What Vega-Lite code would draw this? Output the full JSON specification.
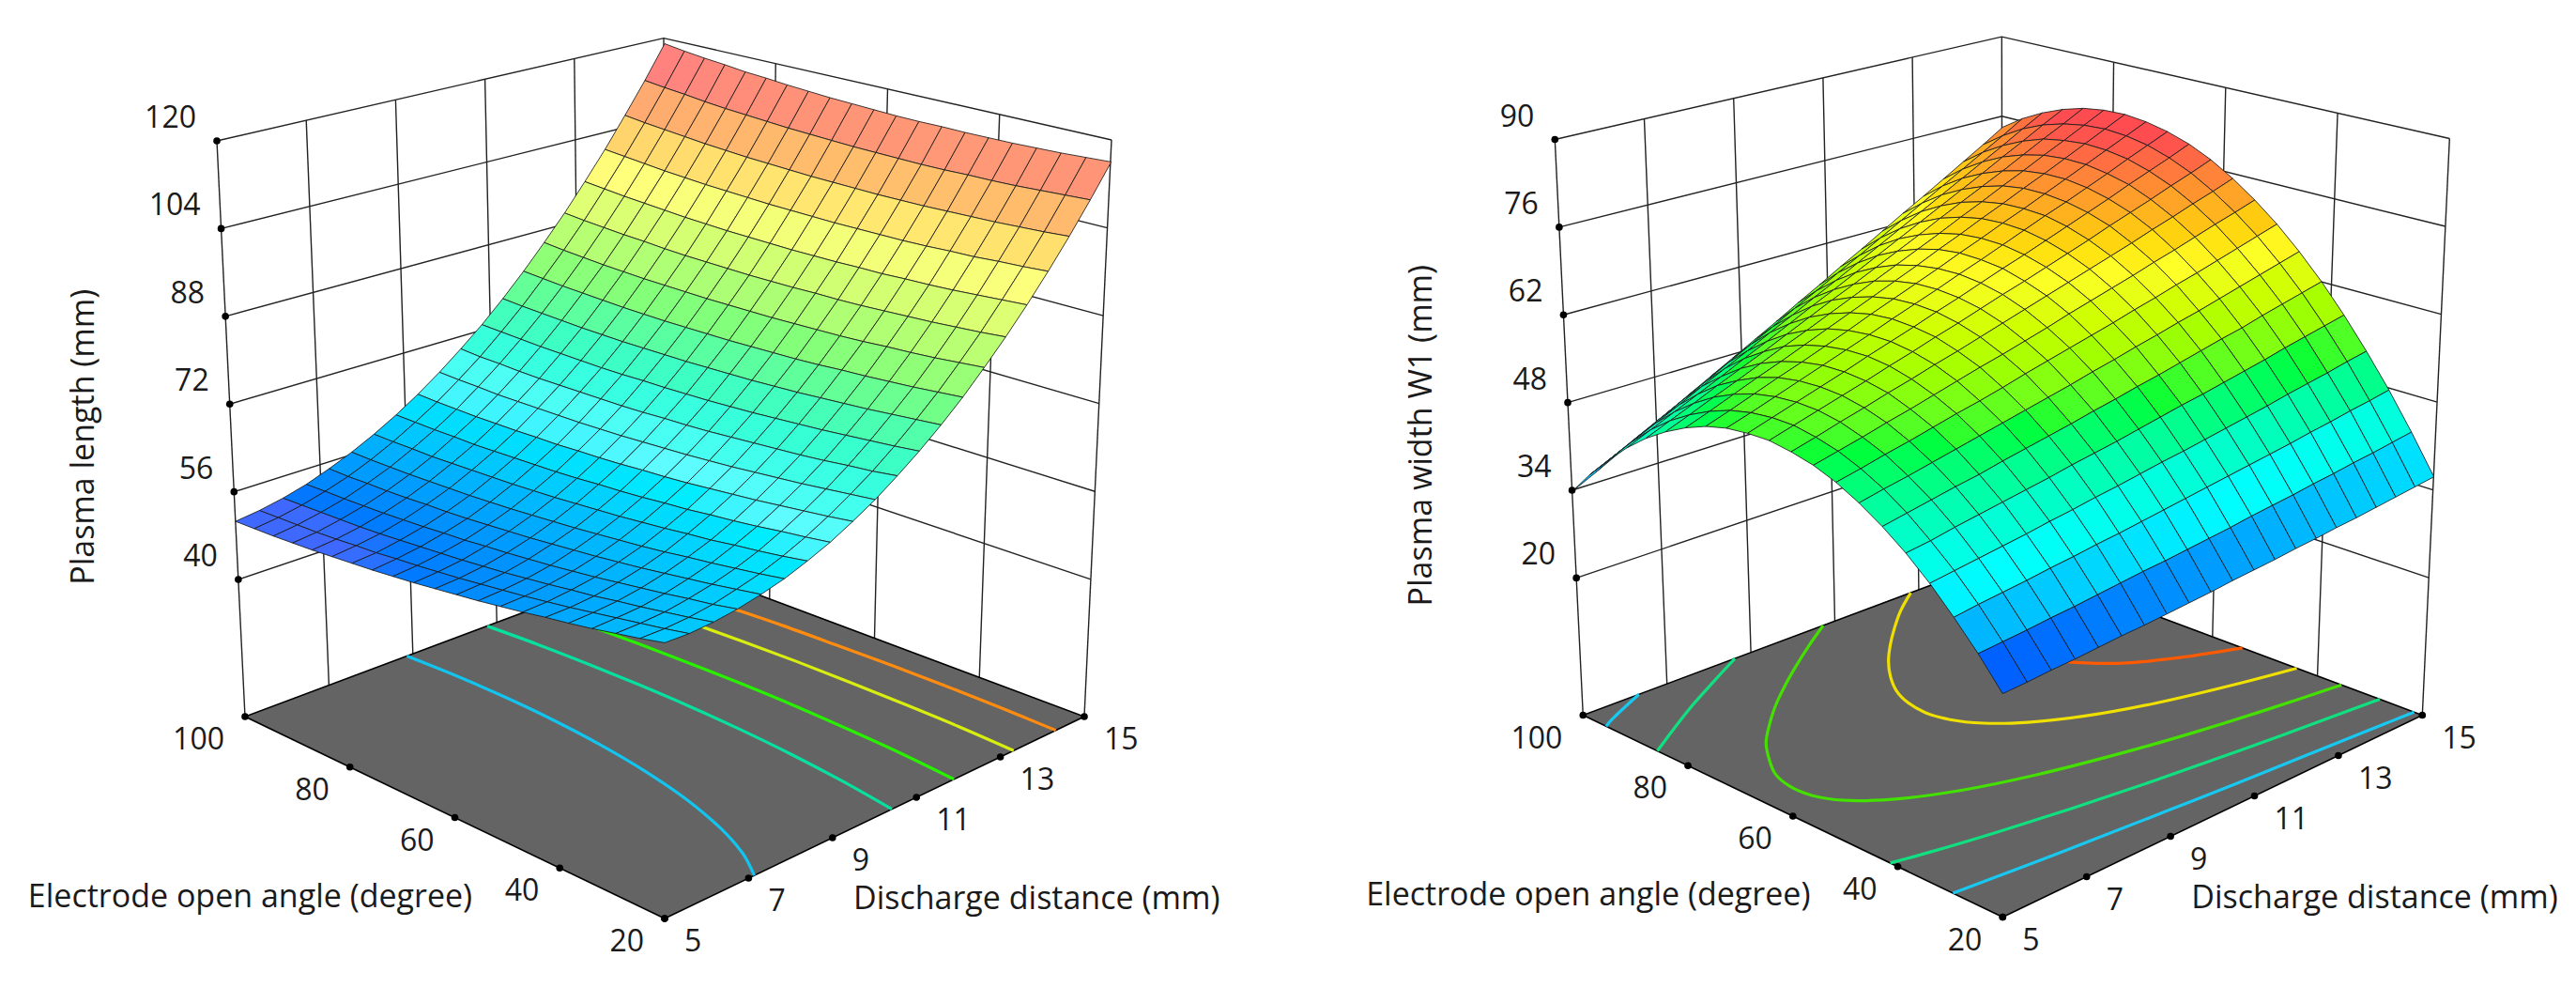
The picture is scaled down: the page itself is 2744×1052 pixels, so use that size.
{"$schema":"https://vega.github.io/schema/vega-lite/v6.json","width":2744,"height":1052,"padding":0,"autosize":"none","background":"white","config":{"view":{"stroke":null},"text":{"font":"Open Sans"}},
"data":{"values":[
{"s":"L","d":15,"a":100,"z":119.7},{"s":"L","d":15,"a":96,"z":119.1},{"s":"L","d":15,"a":92,"z":118.6},{"s":"L","d":15,"a":88,"z":118.2},{"s":"L","d":15,"a":84,"z":117.7},{"s":"L","d":15,"a":80,"z":117.4},{"s":"L","d":15,"a":76,"z":117},{"s":"L","d":15,"a":72,"z":116.7},{"s":"L","d":15,"a":68,"z":116.4},{"s":"L","d":15,"a":64,"z":116.2},{"s":"L","d":15,"a":60,"z":116},{"s":"L","d":15,"a":56,"z":115.8},{"s":"L","d":15,"a":52,"z":115.7},{"s":"L","d":15,"a":48,"z":115.7},{"s":"L","d":15,"a":44,"z":115.6},{"s":"L","d":15,"a":40,"z":115.6},{"s":"L","d":15,"a":36,"z":115.6},{"s":"L","d":15,"a":32,"z":115.7},{"s":"L","d":15,"a":28,"z":115.8},{"s":"L","d":15,"a":24,"z":116},{"s":"L","d":15,"a":20,"z":116.2},
{"s":"L","d":14.5,"a":100,"z":113.4},{"s":"L","d":14.5,"a":96,"z":112.9},{"s":"L","d":14.5,"a":92,"z":112.5},{"s":"L","d":14.5,"a":88,"z":112},{"s":"L","d":14.5,"a":84,"z":111.6},{"s":"L","d":14.5,"a":80,"z":111.3},{"s":"L","d":14.5,"a":76,"z":111},{"s":"L","d":14.5,"a":72,"z":110.7},{"s":"L","d":14.5,"a":68,"z":110.5},{"s":"L","d":14.5,"a":64,"z":110.3},{"s":"L","d":14.5,"a":60,"z":110.1},{"s":"L","d":14.5,"a":56,"z":110},{"s":"L","d":14.5,"a":52,"z":109.9},{"s":"L","d":14.5,"a":48,"z":109.8},{"s":"L","d":14.5,"a":44,"z":109.8},{"s":"L","d":14.5,"a":40,"z":109.9},{"s":"L","d":14.5,"a":36,"z":109.9},{"s":"L","d":14.5,"a":32,"z":110},{"s":"L","d":14.5,"a":28,"z":110.2},{"s":"L","d":14.5,"a":24,"z":110.4},{"s":"L","d":14.5,"a":20,"z":110.6},
{"s":"L","d":14,"a":100,"z":107.5},{"s":"L","d":14,"a":96,"z":107},{"s":"L","d":14,"a":92,"z":106.6},{"s":"L","d":14,"a":88,"z":106.2},{"s":"L","d":14,"a":84,"z":105.8},{"s":"L","d":14,"a":80,"z":105.5},{"s":"L","d":14,"a":76,"z":105.2},{"s":"L","d":14,"a":72,"z":105},{"s":"L","d":14,"a":68,"z":104.8},{"s":"L","d":14,"a":64,"z":104.6},{"s":"L","d":14,"a":60,"z":104.5},{"s":"L","d":14,"a":56,"z":104.4},{"s":"L","d":14,"a":52,"z":104.3},{"s":"L","d":14,"a":48,"z":104.3},{"s":"L","d":14,"a":44,"z":104.3},{"s":"L","d":14,"a":40,"z":104.4},{"s":"L","d":14,"a":36,"z":104.5},{"s":"L","d":14,"a":32,"z":104.6},{"s":"L","d":14,"a":28,"z":104.8},{"s":"L","d":14,"a":24,"z":105},{"s":"L","d":14,"a":20,"z":105.3},
{"s":"L","d":13.5,"a":100,"z":101.8},{"s":"L","d":13.5,"a":96,"z":101.4},{"s":"L","d":13.5,"a":92,"z":101},{"s":"L","d":13.5,"a":88,"z":100.6},{"s":"L","d":13.5,"a":84,"z":100.3},{"s":"L","d":13.5,"a":80,"z":100},{"s":"L","d":13.5,"a":76,"z":99.8},{"s":"L","d":13.5,"a":72,"z":99.6},{"s":"L","d":13.5,"a":68,"z":99.4},{"s":"L","d":13.5,"a":64,"z":99.3},{"s":"L","d":13.5,"a":60,"z":99.2},{"s":"L","d":13.5,"a":56,"z":99.1},{"s":"L","d":13.5,"a":52,"z":99.1},{"s":"L","d":13.5,"a":48,"z":99.1},{"s":"L","d":13.5,"a":44,"z":99.1},{"s":"L","d":13.5,"a":40,"z":99.2},{"s":"L","d":13.5,"a":36,"z":99.4},{"s":"L","d":13.5,"a":32,"z":99.5},{"s":"L","d":13.5,"a":28,"z":99.8},{"s":"L","d":13.5,"a":24,"z":100},{"s":"L","d":13.5,"a":20,"z":100.3},
{"s":"L","d":13,"a":100,"z":96.5},{"s":"L","d":13,"a":96,"z":96.1},{"s":"L","d":13,"a":92,"z":95.7},{"s":"L","d":13,"a":88,"z":95.4},{"s":"L","d":13,"a":84,"z":95.1},{"s":"L","d":13,"a":80,"z":94.8},{"s":"L","d":13,"a":76,"z":94.6},{"s":"L","d":13,"a":72,"z":94.4},{"s":"L","d":13,"a":68,"z":94.3},{"s":"L","d":13,"a":64,"z":94.2},{"s":"L","d":13,"a":60,"z":94.1},{"s":"L","d":13,"a":56,"z":94.1},{"s":"L","d":13,"a":52,"z":94.1},{"s":"L","d":13,"a":48,"z":94.2},{"s":"L","d":13,"a":44,"z":94.2},{"s":"L","d":13,"a":40,"z":94.4},{"s":"L","d":13,"a":36,"z":94.5},{"s":"L","d":13,"a":32,"z":94.7},{"s":"L","d":13,"a":28,"z":95},{"s":"L","d":13,"a":24,"z":95.3},{"s":"L","d":13,"a":20,"z":95.6},
{"s":"L","d":12.5,"a":100,"z":91.4},{"s":"L","d":12.5,"a":96,"z":91},{"s":"L","d":12.5,"a":92,"z":90.7},{"s":"L","d":12.5,"a":88,"z":90.4},{"s":"L","d":12.5,"a":84,"z":90.2},{"s":"L","d":12.5,"a":80,"z":89.9},{"s":"L","d":12.5,"a":76,"z":89.7},{"s":"L","d":12.5,"a":72,"z":89.6},{"s":"L","d":12.5,"a":68,"z":89.5},{"s":"L","d":12.5,"a":64,"z":89.4},{"s":"L","d":12.5,"a":60,"z":89.4},{"s":"L","d":12.5,"a":56,"z":89.4},{"s":"L","d":12.5,"a":52,"z":89.5},{"s":"L","d":12.5,"a":48,"z":89.5},{"s":"L","d":12.5,"a":44,"z":89.6},{"s":"L","d":12.5,"a":40,"z":89.8},{"s":"L","d":12.5,"a":36,"z":90},{"s":"L","d":12.5,"a":32,"z":90.2},{"s":"L","d":12.5,"a":28,"z":90.5},{"s":"L","d":12.5,"a":24,"z":90.8},{"s":"L","d":12.5,"a":20,"z":91.2},
{"s":"L","d":12,"a":100,"z":86.7},{"s":"L","d":12,"a":96,"z":86.3},{"s":"L","d":12,"a":92,"z":86},{"s":"L","d":12,"a":88,"z":85.7},{"s":"L","d":12,"a":84,"z":85.5},{"s":"L","d":12,"a":80,"z":85.3},{"s":"L","d":12,"a":76,"z":85.2},{"s":"L","d":12,"a":72,"z":85.1},{"s":"L","d":12,"a":68,"z":85},{"s":"L","d":12,"a":64,"z":85},{"s":"L","d":12,"a":60,"z":85},{"s":"L","d":12,"a":56,"z":85},{"s":"L","d":12,"a":52,"z":85.1},{"s":"L","d":12,"a":48,"z":85.2},{"s":"L","d":12,"a":44,"z":85.3},{"s":"L","d":12,"a":40,"z":85.5},{"s":"L","d":12,"a":36,"z":85.8},{"s":"L","d":12,"a":32,"z":86},{"s":"L","d":12,"a":28,"z":86.3},{"s":"L","d":12,"a":24,"z":86.7},{"s":"L","d":12,"a":20,"z":87.1},
{"s":"L","d":11.5,"a":100,"z":82.2},{"s":"L","d":11.5,"a":96,"z":81.9},{"s":"L","d":11.5,"a":92,"z":81.6},{"s":"L","d":11.5,"a":88,"z":81.4},{"s":"L","d":11.5,"a":84,"z":81.2},{"s":"L","d":11.5,"a":80,"z":81},{"s":"L","d":11.5,"a":76,"z":80.9},{"s":"L","d":11.5,"a":72,"z":80.8},{"s":"L","d":11.5,"a":68,"z":80.8},{"s":"L","d":11.5,"a":64,"z":80.8},{"s":"L","d":11.5,"a":60,"z":80.8},{"s":"L","d":11.5,"a":56,"z":80.9},{"s":"L","d":11.5,"a":52,"z":81},{"s":"L","d":11.5,"a":48,"z":81.1},{"s":"L","d":11.5,"a":44,"z":81.3},{"s":"L","d":11.5,"a":40,"z":81.6},{"s":"L","d":11.5,"a":36,"z":81.8},{"s":"L","d":11.5,"a":32,"z":82.1},{"s":"L","d":11.5,"a":28,"z":82.4},{"s":"L","d":11.5,"a":24,"z":82.8},{"s":"L","d":11.5,"a":20,"z":83.2},
{"s":"L","d":11,"a":100,"z":78},{"s":"L","d":11,"a":96,"z":77.7},{"s":"L","d":11,"a":92,"z":77.5},{"s":"L","d":11,"a":88,"z":77.3},{"s":"L","d":11,"a":84,"z":77.1},{"s":"L","d":11,"a":80,"z":77},{"s":"L","d":11,"a":76,"z":76.9},{"s":"L","d":11,"a":72,"z":76.9},{"s":"L","d":11,"a":68,"z":76.9},{"s":"L","d":11,"a":64,"z":76.9},{"s":"L","d":11,"a":60,"z":77},{"s":"L","d":11,"a":56,"z":77.1},{"s":"L","d":11,"a":52,"z":77.2},{"s":"L","d":11,"a":48,"z":77.4},{"s":"L","d":11,"a":44,"z":77.6},{"s":"L","d":11,"a":40,"z":77.9},{"s":"L","d":11,"a":36,"z":78.2},{"s":"L","d":11,"a":32,"z":78.5},{"s":"L","d":11,"a":28,"z":78.9},{"s":"L","d":11,"a":24,"z":79.3},{"s":"L","d":11,"a":20,"z":79.7},
{"s":"L","d":10.5,"a":100,"z":74.1},{"s":"L","d":10.5,"a":96,"z":73.9},{"s":"L","d":10.5,"a":92,"z":73.7},{"s":"L","d":10.5,"a":88,"z":73.5},{"s":"L","d":10.5,"a":84,"z":73.4},{"s":"L","d":10.5,"a":80,"z":73.3},{"s":"L","d":10.5,"a":76,"z":73.2},{"s":"L","d":10.5,"a":72,"z":73.2},{"s":"L","d":10.5,"a":68,"z":73.3},{"s":"L","d":10.5,"a":64,"z":73.3},{"s":"L","d":10.5,"a":60,"z":73.4},{"s":"L","d":10.5,"a":56,"z":73.5},{"s":"L","d":10.5,"a":52,"z":73.7},{"s":"L","d":10.5,"a":48,"z":73.9},{"s":"L","d":10.5,"a":44,"z":74.2},{"s":"L","d":10.5,"a":40,"z":74.5},{"s":"L","d":10.5,"a":36,"z":74.8},{"s":"L","d":10.5,"a":32,"z":75.2},{"s":"L","d":10.5,"a":28,"z":75.6},{"s":"L","d":10.5,"a":24,"z":76},{"s":"L","d":10.5,"a":20,"z":76.5},
{"s":"L","d":10,"a":100,"z":70.6},{"s":"L","d":10,"a":96,"z":70.3},{"s":"L","d":10,"a":92,"z":70.2},{"s":"L","d":10,"a":88,"z":70},{"s":"L","d":10,"a":84,"z":69.9},{"s":"L","d":10,"a":80,"z":69.9},{"s":"L","d":10,"a":76,"z":69.9},{"s":"L","d":10,"a":72,"z":69.9},{"s":"L","d":10,"a":68,"z":69.9},{"s":"L","d":10,"a":64,"z":70},{"s":"L","d":10,"a":60,"z":70.2},{"s":"L","d":10,"a":56,"z":70.3},{"s":"L","d":10,"a":52,"z":70.5},{"s":"L","d":10,"a":48,"z":70.8},{"s":"L","d":10,"a":44,"z":71.1},{"s":"L","d":10,"a":40,"z":71.4},{"s":"L","d":10,"a":36,"z":71.7},{"s":"L","d":10,"a":32,"z":72.1},{"s":"L","d":10,"a":28,"z":72.6},{"s":"L","d":10,"a":24,"z":73},{"s":"L","d":10,"a":20,"z":73.6},
{"s":"L","d":9.5,"a":100,"z":67.3},{"s":"L","d":9.5,"a":96,"z":67.1},{"s":"L","d":9.5,"a":92,"z":67},{"s":"L","d":9.5,"a":88,"z":66.8},{"s":"L","d":9.5,"a":84,"z":66.8},{"s":"L","d":9.5,"a":80,"z":66.8},{"s":"L","d":9.5,"a":76,"z":66.8},{"s":"L","d":9.5,"a":72,"z":66.8},{"s":"L","d":9.5,"a":68,"z":66.9},{"s":"L","d":9.5,"a":64,"z":67},{"s":"L","d":9.5,"a":60,"z":67.2},{"s":"L","d":9.5,"a":56,"z":67.4},{"s":"L","d":9.5,"a":52,"z":67.6},{"s":"L","d":9.5,"a":48,"z":67.9},{"s":"L","d":9.5,"a":44,"z":68.2},{"s":"L","d":9.5,"a":40,"z":68.6},{"s":"L","d":9.5,"a":36,"z":69},{"s":"L","d":9.5,"a":32,"z":69.4},{"s":"L","d":9.5,"a":28,"z":69.9},{"s":"L","d":9.5,"a":24,"z":70.4},{"s":"L","d":9.5,"a":20,"z":70.9},
{"s":"L","d":9,"a":100,"z":64.3},{"s":"L","d":9,"a":96,"z":64.1},{"s":"L","d":9,"a":92,"z":64},{"s":"L","d":9,"a":88,"z":63.9},{"s":"L","d":9,"a":84,"z":63.9},{"s":"L","d":9,"a":80,"z":63.9},{"s":"L","d":9,"a":76,"z":64},{"s":"L","d":9,"a":72,"z":64},{"s":"L","d":9,"a":68,"z":64.2},{"s":"L","d":9,"a":64,"z":64.3},{"s":"L","d":9,"a":60,"z":64.5},{"s":"L","d":9,"a":56,"z":64.8},{"s":"L","d":9,"a":52,"z":65},{"s":"L","d":9,"a":48,"z":65.3},{"s":"L","d":9,"a":44,"z":65.7},{"s":"L","d":9,"a":40,"z":66.1},{"s":"L","d":9,"a":36,"z":66.5},{"s":"L","d":9,"a":32,"z":67},{"s":"L","d":9,"a":28,"z":67.5},{"s":"L","d":9,"a":24,"z":68},{"s":"L","d":9,"a":20,"z":68.6},
{"s":"L","d":8.5,"a":100,"z":61.6},{"s":"L","d":8.5,"a":96,"z":61.5},{"s":"L","d":8.5,"a":92,"z":61.4},{"s":"L","d":8.5,"a":88,"z":61.4},{"s":"L","d":8.5,"a":84,"z":61.3},{"s":"L","d":8.5,"a":80,"z":61.4},{"s":"L","d":8.5,"a":76,"z":61.5},{"s":"L","d":8.5,"a":72,"z":61.6},{"s":"L","d":8.5,"a":68,"z":61.7},{"s":"L","d":8.5,"a":64,"z":61.9},{"s":"L","d":8.5,"a":60,"z":62.2},{"s":"L","d":8.5,"a":56,"z":62.4},{"s":"L","d":8.5,"a":52,"z":62.7},{"s":"L","d":8.5,"a":48,"z":63.1},{"s":"L","d":8.5,"a":44,"z":63.4},{"s":"L","d":8.5,"a":40,"z":63.9},{"s":"L","d":8.5,"a":36,"z":64.3},{"s":"L","d":8.5,"a":32,"z":64.8},{"s":"L","d":8.5,"a":28,"z":65.4},{"s":"L","d":8.5,"a":24,"z":65.9},{"s":"L","d":8.5,"a":20,"z":66.5},
{"s":"L","d":8,"a":100,"z":59.2},{"s":"L","d":8,"a":96,"z":59.1},{"s":"L","d":8,"a":92,"z":59.1},{"s":"L","d":8,"a":88,"z":59},{"s":"L","d":8,"a":84,"z":59.1},{"s":"L","d":8,"a":80,"z":59.2},{"s":"L","d":8,"a":76,"z":59.3},{"s":"L","d":8,"a":72,"z":59.4},{"s":"L","d":8,"a":68,"z":59.6},{"s":"L","d":8,"a":64,"z":59.8},{"s":"L","d":8,"a":60,"z":60.1},{"s":"L","d":8,"a":56,"z":60.4},{"s":"L","d":8,"a":52,"z":60.7},{"s":"L","d":8,"a":48,"z":61.1},{"s":"L","d":8,"a":44,"z":61.5},{"s":"L","d":8,"a":40,"z":62},{"s":"L","d":8,"a":36,"z":62.4},{"s":"L","d":8,"a":32,"z":63},{"s":"L","d":8,"a":28,"z":63.5},{"s":"L","d":8,"a":24,"z":64.1},{"s":"L","d":8,"a":20,"z":64.8},
{"s":"L","d":7.5,"a":100,"z":57.1},{"s":"L","d":7.5,"a":96,"z":57},{"s":"L","d":7.5,"a":92,"z":57},{"s":"L","d":7.5,"a":88,"z":57},{"s":"L","d":7.5,"a":84,"z":57.1},{"s":"L","d":7.5,"a":80,"z":57.2},{"s":"L","d":7.5,"a":76,"z":57.3},{"s":"L","d":7.5,"a":72,"z":57.5},{"s":"L","d":7.5,"a":68,"z":57.7},{"s":"L","d":7.5,"a":64,"z":58},{"s":"L","d":7.5,"a":60,"z":58.3},{"s":"L","d":7.5,"a":56,"z":58.6},{"s":"L","d":7.5,"a":52,"z":59},{"s":"L","d":7.5,"a":48,"z":59.4},{"s":"L","d":7.5,"a":44,"z":59.8},{"s":"L","d":7.5,"a":40,"z":60.3},{"s":"L","d":7.5,"a":36,"z":60.9},{"s":"L","d":7.5,"a":32,"z":61.4},{"s":"L","d":7.5,"a":28,"z":62},{"s":"L","d":7.5,"a":24,"z":62.6},{"s":"L","d":7.5,"a":20,"z":63.3},
{"s":"L","d":7,"a":100,"z":55.3},{"s":"L","d":7,"a":96,"z":55.2},{"s":"L","d":7,"a":92,"z":55.3},{"s":"L","d":7,"a":88,"z":55.3},{"s":"L","d":7,"a":84,"z":55.4},{"s":"L","d":7,"a":80,"z":55.6},{"s":"L","d":7,"a":76,"z":55.7},{"s":"L","d":7,"a":72,"z":55.9},{"s":"L","d":7,"a":68,"z":56.2},{"s":"L","d":7,"a":64,"z":56.5},{"s":"L","d":7,"a":60,"z":56.8},{"s":"L","d":7,"a":56,"z":57.2},{"s":"L","d":7,"a":52,"z":57.6},{"s":"L","d":7,"a":48,"z":58},{"s":"L","d":7,"a":44,"z":58.5},{"s":"L","d":7,"a":40,"z":59},{"s":"L","d":7,"a":36,"z":59.6},{"s":"L","d":7,"a":32,"z":60.2},{"s":"L","d":7,"a":28,"z":60.8},{"s":"L","d":7,"a":24,"z":61.5},{"s":"L","d":7,"a":20,"z":62.2},
{"s":"L","d":6.5,"a":100,"z":53.7},{"s":"L","d":6.5,"a":96,"z":53.8},{"s":"L","d":6.5,"a":92,"z":53.8},{"s":"L","d":6.5,"a":88,"z":53.9},{"s":"L","d":6.5,"a":84,"z":54},{"s":"L","d":6.5,"a":80,"z":54.2},{"s":"L","d":6.5,"a":76,"z":54.4},{"s":"L","d":6.5,"a":72,"z":54.7},{"s":"L","d":6.5,"a":68,"z":54.9},{"s":"L","d":6.5,"a":64,"z":55.3},{"s":"L","d":6.5,"a":60,"z":55.6},{"s":"L","d":6.5,"a":56,"z":56},{"s":"L","d":6.5,"a":52,"z":56.4},{"s":"L","d":6.5,"a":48,"z":56.9},{"s":"L","d":6.5,"a":44,"z":57.4},{"s":"L","d":6.5,"a":40,"z":58},{"s":"L","d":6.5,"a":36,"z":58.6},{"s":"L","d":6.5,"a":32,"z":59.2},{"s":"L","d":6.5,"a":28,"z":59.9},{"s":"L","d":6.5,"a":24,"z":60.5},{"s":"L","d":6.5,"a":20,"z":61.3},
{"s":"L","d":6,"a":100,"z":52.5},{"s":"L","d":6,"a":96,"z":52.6},{"s":"L","d":6,"a":92,"z":52.7},{"s":"L","d":6,"a":88,"z":52.8},{"s":"L","d":6,"a":84,"z":52.9},{"s":"L","d":6,"a":80,"z":53.1},{"s":"L","d":6,"a":76,"z":53.4},{"s":"L","d":6,"a":72,"z":53.7},{"s":"L","d":6,"a":68,"z":54},{"s":"L","d":6,"a":64,"z":54.3},{"s":"L","d":6,"a":60,"z":54.7},{"s":"L","d":6,"a":56,"z":55.1},{"s":"L","d":6,"a":52,"z":55.6},{"s":"L","d":6,"a":48,"z":56.1},{"s":"L","d":6,"a":44,"z":56.7},{"s":"L","d":6,"a":40,"z":57.2},{"s":"L","d":6,"a":36,"z":57.9},{"s":"L","d":6,"a":32,"z":58.5},{"s":"L","d":6,"a":28,"z":59.2},{"s":"L","d":6,"a":24,"z":59.9},{"s":"L","d":6,"a":20,"z":60.7},
{"s":"L","d":5.5,"a":100,"z":51.6},{"s":"L","d":5.5,"a":96,"z":51.7},{"s":"L","d":5.5,"a":92,"z":51.8},{"s":"L","d":5.5,"a":88,"z":51.9},{"s":"L","d":5.5,"a":84,"z":52.1},{"s":"L","d":5.5,"a":80,"z":52.4},{"s":"L","d":5.5,"a":76,"z":52.6},{"s":"L","d":5.5,"a":72,"z":53},{"s":"L","d":5.5,"a":68,"z":53.3},{"s":"L","d":5.5,"a":64,"z":53.7},{"s":"L","d":5.5,"a":60,"z":54.1},{"s":"L","d":5.5,"a":56,"z":54.6},{"s":"L","d":5.5,"a":52,"z":55.1},{"s":"L","d":5.5,"a":48,"z":55.6},{"s":"L","d":5.5,"a":44,"z":56.2},{"s":"L","d":5.5,"a":40,"z":56.8},{"s":"L","d":5.5,"a":36,"z":57.5},{"s":"L","d":5.5,"a":32,"z":58.2},{"s":"L","d":5.5,"a":28,"z":58.9},{"s":"L","d":5.5,"a":24,"z":59.6},{"s":"L","d":5.5,"a":20,"z":60.4},
{"s":"L","d":5,"a":100,"z":51},{"s":"L","d":5,"a":96,"z":51.1},{"s":"L","d":5,"a":92,"z":51.2},{"s":"L","d":5,"a":88,"z":51.4},{"s":"L","d":5,"a":84,"z":51.6},{"s":"L","d":5,"a":80,"z":51.9},{"s":"L","d":5,"a":76,"z":52.2},{"s":"L","d":5,"a":72,"z":52.5},{"s":"L","d":5,"a":68,"z":52.9},{"s":"L","d":5,"a":64,"z":53.3},{"s":"L","d":5,"a":60,"z":53.8},{"s":"L","d":5,"a":56,"z":54.3},{"s":"L","d":5,"a":52,"z":54.8},{"s":"L","d":5,"a":48,"z":55.4},{"s":"L","d":5,"a":44,"z":56},{"s":"L","d":5,"a":40,"z":56.7},{"s":"L","d":5,"a":36,"z":57.3},{"s":"L","d":5,"a":32,"z":58},{"s":"L","d":5,"a":28,"z":58.8},{"s":"L","d":5,"a":24,"z":59.6},{"s":"L","d":5,"a":20,"z":60.5},
{"s":"R","d":15,"a":100,"z":75.1},{"s":"R","d":15,"a":96,"z":77.4},{"s":"R","d":15,"a":92,"z":79.2},{"s":"R","d":15,"a":88,"z":80.6},{"s":"R","d":15,"a":84,"z":81.6},{"s":"R","d":15,"a":80,"z":82.1},{"s":"R","d":15,"a":76,"z":82.2},{"s":"R","d":15,"a":72,"z":81.8},{"s":"R","d":15,"a":68,"z":81},{"s":"R","d":15,"a":64,"z":79.8},{"s":"R","d":15,"a":60,"z":78.1},{"s":"R","d":15,"a":56,"z":75.9},{"s":"R","d":15,"a":52,"z":73.3},{"s":"R","d":15,"a":48,"z":70.3},{"s":"R","d":15,"a":44,"z":66.8},{"s":"R","d":15,"a":40,"z":62.9},{"s":"R","d":15,"a":36,"z":58.5},{"s":"R","d":15,"a":32,"z":53.7},{"s":"R","d":15,"a":28,"z":48.5},{"s":"R","d":15,"a":24,"z":42.8},{"s":"R","d":15,"a":20,"z":36.7},
{"s":"R","d":14.5,"a":100,"z":72.9},{"s":"R","d":14.5,"a":96,"z":75.3},{"s":"R","d":14.5,"a":92,"z":77.3},{"s":"R","d":14.5,"a":88,"z":78.8},{"s":"R","d":14.5,"a":84,"z":79.8},{"s":"R","d":14.5,"a":80,"z":80.4},{"s":"R","d":14.5,"a":76,"z":80.6},{"s":"R","d":14.5,"a":72,"z":80.3},{"s":"R","d":14.5,"a":68,"z":79.6},{"s":"R","d":14.5,"a":64,"z":78.4},{"s":"R","d":14.5,"a":60,"z":76.8},{"s":"R","d":14.5,"a":56,"z":74.7},{"s":"R","d":14.5,"a":52,"z":72.2},{"s":"R","d":14.5,"a":48,"z":69.3},{"s":"R","d":14.5,"a":44,"z":65.9},{"s":"R","d":14.5,"a":40,"z":62.1},{"s":"R","d":14.5,"a":36,"z":57.8},{"s":"R","d":14.5,"a":32,"z":53.1},{"s":"R","d":14.5,"a":28,"z":47.9},{"s":"R","d":14.5,"a":24,"z":42.3},{"s":"R","d":14.5,"a":20,"z":36.3},
{"s":"R","d":14,"a":100,"z":70.8},{"s":"R","d":14,"a":96,"z":73.3},{"s":"R","d":14,"a":92,"z":75.3},{"s":"R","d":14,"a":88,"z":76.9},{"s":"R","d":14,"a":84,"z":78.1},{"s":"R","d":14,"a":80,"z":78.7},{"s":"R","d":14,"a":76,"z":79},{"s":"R","d":14,"a":72,"z":78.8},{"s":"R","d":14,"a":68,"z":78.2},{"s":"R","d":14,"a":64,"z":77.1},{"s":"R","d":14,"a":60,"z":75.6},{"s":"R","d":14,"a":56,"z":73.6},{"s":"R","d":14,"a":52,"z":71.2},{"s":"R","d":14,"a":48,"z":68.3},{"s":"R","d":14,"a":44,"z":65},{"s":"R","d":14,"a":40,"z":61.3},{"s":"R","d":14,"a":36,"z":57.1},{"s":"R","d":14,"a":32,"z":52.4},{"s":"R","d":14,"a":28,"z":47.4},{"s":"R","d":14,"a":24,"z":41.8},{"s":"R","d":14,"a":20,"z":35.9},
{"s":"R","d":13.5,"a":100,"z":68.7},{"s":"R","d":13.5,"a":96,"z":71.3},{"s":"R","d":13.5,"a":92,"z":73.4},{"s":"R","d":13.5,"a":88,"z":75.1},{"s":"R","d":13.5,"a":84,"z":76.3},{"s":"R","d":13.5,"a":80,"z":77.1},{"s":"R","d":13.5,"a":76,"z":77.4},{"s":"R","d":13.5,"a":72,"z":77.3},{"s":"R","d":13.5,"a":68,"z":76.7},{"s":"R","d":13.5,"a":64,"z":75.8},{"s":"R","d":13.5,"a":60,"z":74.3},{"s":"R","d":13.5,"a":56,"z":72.4},{"s":"R","d":13.5,"a":52,"z":70.1},{"s":"R","d":13.5,"a":48,"z":67.3},{"s":"R","d":13.5,"a":44,"z":64.1},{"s":"R","d":13.5,"a":40,"z":60.5},{"s":"R","d":13.5,"a":36,"z":56.4},{"s":"R","d":13.5,"a":32,"z":51.8},{"s":"R","d":13.5,"a":28,"z":46.8},{"s":"R","d":13.5,"a":24,"z":41.4},{"s":"R","d":13.5,"a":20,"z":35.5},
{"s":"R","d":13,"a":100,"z":66.6},{"s":"R","d":13,"a":96,"z":69.3},{"s":"R","d":13,"a":92,"z":71.5},{"s":"R","d":13,"a":88,"z":73.2},{"s":"R","d":13,"a":84,"z":74.5},{"s":"R","d":13,"a":80,"z":75.4},{"s":"R","d":13,"a":76,"z":75.8},{"s":"R","d":13,"a":72,"z":75.8},{"s":"R","d":13,"a":68,"z":75.3},{"s":"R","d":13,"a":64,"z":74.4},{"s":"R","d":13,"a":60,"z":73.1},{"s":"R","d":13,"a":56,"z":71.3},{"s":"R","d":13,"a":52,"z":69},{"s":"R","d":13,"a":48,"z":66.3},{"s":"R","d":13,"a":44,"z":63.2},{"s":"R","d":13,"a":40,"z":59.6},{"s":"R","d":13,"a":36,"z":55.6},{"s":"R","d":13,"a":32,"z":51.2},{"s":"R","d":13,"a":28,"z":46.3},{"s":"R","d":13,"a":24,"z":40.9},{"s":"R","d":13,"a":20,"z":35.1},
{"s":"R","d":12.5,"a":100,"z":64.6},{"s":"R","d":12.5,"a":96,"z":67.3},{"s":"R","d":12.5,"a":92,"z":69.6},{"s":"R","d":12.5,"a":88,"z":71.4},{"s":"R","d":12.5,"a":84,"z":72.8},{"s":"R","d":12.5,"a":80,"z":73.8},{"s":"R","d":12.5,"a":76,"z":74.3},{"s":"R","d":12.5,"a":72,"z":74.3},{"s":"R","d":12.5,"a":68,"z":73.9},{"s":"R","d":12.5,"a":64,"z":73.1},{"s":"R","d":12.5,"a":60,"z":71.9},{"s":"R","d":12.5,"a":56,"z":70.1},{"s":"R","d":12.5,"a":52,"z":68},{"s":"R","d":12.5,"a":48,"z":65.4},{"s":"R","d":12.5,"a":44,"z":62.3},{"s":"R","d":12.5,"a":40,"z":58.9},{"s":"R","d":12.5,"a":36,"z":54.9},{"s":"R","d":12.5,"a":32,"z":50.5},{"s":"R","d":12.5,"a":28,"z":45.7},{"s":"R","d":12.5,"a":24,"z":40.5},{"s":"R","d":12.5,"a":20,"z":34.8},
{"s":"R","d":12,"a":100,"z":62.5},{"s":"R","d":12,"a":96,"z":65.3},{"s":"R","d":12,"a":92,"z":67.7},{"s":"R","d":12,"a":88,"z":69.6},{"s":"R","d":12,"a":84,"z":71.1},{"s":"R","d":12,"a":80,"z":72.1},{"s":"R","d":12,"a":76,"z":72.7},{"s":"R","d":12,"a":72,"z":72.8},{"s":"R","d":12,"a":68,"z":72.6},{"s":"R","d":12,"a":64,"z":71.8},{"s":"R","d":12,"a":60,"z":70.6},{"s":"R","d":12,"a":56,"z":69},{"s":"R","d":12,"a":52,"z":66.9},{"s":"R","d":12,"a":48,"z":64.4},{"s":"R","d":12,"a":44,"z":61.5},{"s":"R","d":12,"a":40,"z":58.1},{"s":"R","d":12,"a":36,"z":54.2},{"s":"R","d":12,"a":32,"z":49.9},{"s":"R","d":12,"a":28,"z":45.2},{"s":"R","d":12,"a":24,"z":40},{"s":"R","d":12,"a":20,"z":34.4},
{"s":"R","d":11.5,"a":100,"z":60.4},{"s":"R","d":11.5,"a":96,"z":63.3},{"s":"R","d":11.5,"a":92,"z":65.8},{"s":"R","d":11.5,"a":88,"z":67.8},{"s":"R","d":11.5,"a":84,"z":69.4},{"s":"R","d":11.5,"a":80,"z":70.5},{"s":"R","d":11.5,"a":76,"z":71.2},{"s":"R","d":11.5,"a":72,"z":71.4},{"s":"R","d":11.5,"a":68,"z":71.2},{"s":"R","d":11.5,"a":64,"z":70.5},{"s":"R","d":11.5,"a":60,"z":69.4},{"s":"R","d":11.5,"a":56,"z":67.9},{"s":"R","d":11.5,"a":52,"z":65.9},{"s":"R","d":11.5,"a":48,"z":63.5},{"s":"R","d":11.5,"a":44,"z":60.6},{"s":"R","d":11.5,"a":40,"z":57.3},{"s":"R","d":11.5,"a":36,"z":53.5},{"s":"R","d":11.5,"a":32,"z":49.3},{"s":"R","d":11.5,"a":28,"z":44.7},{"s":"R","d":11.5,"a":24,"z":39.6},{"s":"R","d":11.5,"a":20,"z":34.1},
{"s":"R","d":11,"a":100,"z":58.4},{"s":"R","d":11,"a":96,"z":61.3},{"s":"R","d":11,"a":92,"z":63.9},{"s":"R","d":11,"a":88,"z":66},{"s":"R","d":11,"a":84,"z":67.6},{"s":"R","d":11,"a":80,"z":68.8},{"s":"R","d":11,"a":76,"z":69.6},{"s":"R","d":11,"a":72,"z":69.9},{"s":"R","d":11,"a":68,"z":69.8},{"s":"R","d":11,"a":64,"z":69.2},{"s":"R","d":11,"a":60,"z":68.2},{"s":"R","d":11,"a":56,"z":66.8},{"s":"R","d":11,"a":52,"z":64.9},{"s":"R","d":11,"a":48,"z":62.5},{"s":"R","d":11,"a":44,"z":59.8},{"s":"R","d":11,"a":40,"z":56.5},{"s":"R","d":11,"a":36,"z":52.9},{"s":"R","d":11,"a":32,"z":48.7},{"s":"R","d":11,"a":28,"z":44.2},{"s":"R","d":11,"a":24,"z":39.2},{"s":"R","d":11,"a":20,"z":33.7},
{"s":"R","d":10.5,"a":100,"z":56.3},{"s":"R","d":10.5,"a":96,"z":59.4},{"s":"R","d":10.5,"a":92,"z":62},{"s":"R","d":10.5,"a":88,"z":64.2},{"s":"R","d":10.5,"a":84,"z":65.9},{"s":"R","d":10.5,"a":80,"z":67.2},{"s":"R","d":10.5,"a":76,"z":68.1},{"s":"R","d":10.5,"a":72,"z":68.5},{"s":"R","d":10.5,"a":68,"z":68.4},{"s":"R","d":10.5,"a":64,"z":68},{"s":"R","d":10.5,"a":60,"z":67},{"s":"R","d":10.5,"a":56,"z":65.7},{"s":"R","d":10.5,"a":52,"z":63.9},{"s":"R","d":10.5,"a":48,"z":61.6},{"s":"R","d":10.5,"a":44,"z":58.9},{"s":"R","d":10.5,"a":40,"z":55.8},{"s":"R","d":10.5,"a":36,"z":52.2},{"s":"R","d":10.5,"a":32,"z":48.1},{"s":"R","d":10.5,"a":28,"z":43.7},{"s":"R","d":10.5,"a":24,"z":38.7},{"s":"R","d":10.5,"a":20,"z":33.4},
{"s":"R","d":10,"a":100,"z":54.3},{"s":"R","d":10,"a":96,"z":57.4},{"s":"R","d":10,"a":92,"z":60.1},{"s":"R","d":10,"a":88,"z":62.4},{"s":"R","d":10,"a":84,"z":64.2},{"s":"R","d":10,"a":80,"z":65.6},{"s":"R","d":10,"a":76,"z":66.5},{"s":"R","d":10,"a":72,"z":67},{"s":"R","d":10,"a":68,"z":67.1},{"s":"R","d":10,"a":64,"z":66.7},{"s":"R","d":10,"a":60,"z":65.9},{"s":"R","d":10,"a":56,"z":64.6},{"s":"R","d":10,"a":52,"z":62.8},{"s":"R","d":10,"a":48,"z":60.7},{"s":"R","d":10,"a":44,"z":58.1},{"s":"R","d":10,"a":40,"z":55},{"s":"R","d":10,"a":36,"z":51.5},{"s":"R","d":10,"a":32,"z":47.6},{"s":"R","d":10,"a":28,"z":43.2},{"s":"R","d":10,"a":24,"z":38.3},{"s":"R","d":10,"a":20,"z":33.1},
{"s":"R","d":9.5,"a":100,"z":52.2},{"s":"R","d":9.5,"a":96,"z":55.5},{"s":"R","d":9.5,"a":92,"z":58.3},{"s":"R","d":9.5,"a":88,"z":60.6},{"s":"R","d":9.5,"a":84,"z":62.5},{"s":"R","d":9.5,"a":80,"z":64},{"s":"R","d":9.5,"a":76,"z":65},{"s":"R","d":9.5,"a":72,"z":65.6},{"s":"R","d":9.5,"a":68,"z":65.7},{"s":"R","d":9.5,"a":64,"z":65.4},{"s":"R","d":9.5,"a":60,"z":64.7},{"s":"R","d":9.5,"a":56,"z":63.5},{"s":"R","d":9.5,"a":52,"z":61.8},{"s":"R","d":9.5,"a":48,"z":59.8},{"s":"R","d":9.5,"a":44,"z":57.2},{"s":"R","d":9.5,"a":40,"z":54.3},{"s":"R","d":9.5,"a":36,"z":50.8},{"s":"R","d":9.5,"a":32,"z":47},{"s":"R","d":9.5,"a":28,"z":42.7},{"s":"R","d":9.5,"a":24,"z":37.9},{"s":"R","d":9.5,"a":20,"z":32.7},
{"s":"R","d":9,"a":100,"z":50.2},{"s":"R","d":9,"a":96,"z":53.5},{"s":"R","d":9,"a":92,"z":56.4},{"s":"R","d":9,"a":88,"z":58.9},{"s":"R","d":9,"a":84,"z":60.9},{"s":"R","d":9,"a":80,"z":62.4},{"s":"R","d":9,"a":76,"z":63.5},{"s":"R","d":9,"a":72,"z":64.2},{"s":"R","d":9,"a":68,"z":64.4},{"s":"R","d":9,"a":64,"z":64.2},{"s":"R","d":9,"a":60,"z":63.5},{"s":"R","d":9,"a":56,"z":62.4},{"s":"R","d":9,"a":52,"z":60.8},{"s":"R","d":9,"a":48,"z":58.9},{"s":"R","d":9,"a":44,"z":56.4},{"s":"R","d":9,"a":40,"z":53.5},{"s":"R","d":9,"a":36,"z":50.2},{"s":"R","d":9,"a":32,"z":46.4},{"s":"R","d":9,"a":28,"z":42.2},{"s":"R","d":9,"a":24,"z":37.5},{"s":"R","d":9,"a":20,"z":32.4},
{"s":"R","d":8.5,"a":100,"z":48.2},{"s":"R","d":8.5,"a":96,"z":51.6},{"s":"R","d":8.5,"a":92,"z":54.6},{"s":"R","d":8.5,"a":88,"z":57.1},{"s":"R","d":8.5,"a":84,"z":59.2},{"s":"R","d":8.5,"a":80,"z":60.8},{"s":"R","d":8.5,"a":76,"z":62},{"s":"R","d":8.5,"a":72,"z":62.8},{"s":"R","d":8.5,"a":68,"z":63.1},{"s":"R","d":8.5,"a":64,"z":62.9},{"s":"R","d":8.5,"a":60,"z":62.4},{"s":"R","d":8.5,"a":56,"z":61.3},{"s":"R","d":8.5,"a":52,"z":59.9},{"s":"R","d":8.5,"a":48,"z":57.9},{"s":"R","d":8.5,"a":44,"z":55.6},{"s":"R","d":8.5,"a":40,"z":52.8},{"s":"R","d":8.5,"a":36,"z":49.6},{"s":"R","d":8.5,"a":32,"z":45.9},{"s":"R","d":8.5,"a":28,"z":41.7},{"s":"R","d":8.5,"a":24,"z":37.2},{"s":"R","d":8.5,"a":20,"z":32.1},
{"s":"R","d":8,"a":100,"z":46.2},{"s":"R","d":8,"a":96,"z":49.7},{"s":"R","d":8,"a":92,"z":52.7},{"s":"R","d":8,"a":88,"z":55.3},{"s":"R","d":8,"a":84,"z":57.5},{"s":"R","d":8,"a":80,"z":59.2},{"s":"R","d":8,"a":76,"z":60.5},{"s":"R","d":8,"a":72,"z":61.3},{"s":"R","d":8,"a":68,"z":61.7},{"s":"R","d":8,"a":64,"z":61.7},{"s":"R","d":8,"a":60,"z":61.2},{"s":"R","d":8,"a":56,"z":60.3},{"s":"R","d":8,"a":52,"z":58.9},{"s":"R","d":8,"a":48,"z":57},{"s":"R","d":8,"a":44,"z":54.8},{"s":"R","d":8,"a":40,"z":52.1},{"s":"R","d":8,"a":36,"z":48.9},{"s":"R","d":8,"a":32,"z":45.3},{"s":"R","d":8,"a":28,"z":41.3},{"s":"R","d":8,"a":24,"z":36.8},{"s":"R","d":8,"a":20,"z":31.8},
{"s":"R","d":7.5,"a":100,"z":44.2},{"s":"R","d":7.5,"a":96,"z":47.7},{"s":"R","d":7.5,"a":92,"z":50.9},{"s":"R","d":7.5,"a":88,"z":53.6},{"s":"R","d":7.5,"a":84,"z":55.8},{"s":"R","d":7.5,"a":80,"z":57.7},{"s":"R","d":7.5,"a":76,"z":59},{"s":"R","d":7.5,"a":72,"z":59.9},{"s":"R","d":7.5,"a":68,"z":60.4},{"s":"R","d":7.5,"a":64,"z":60.5},{"s":"R","d":7.5,"a":60,"z":60.1},{"s":"R","d":7.5,"a":56,"z":59.2},{"s":"R","d":7.5,"a":52,"z":57.9},{"s":"R","d":7.5,"a":48,"z":56.2},{"s":"R","d":7.5,"a":44,"z":54},{"s":"R","d":7.5,"a":40,"z":51.4},{"s":"R","d":7.5,"a":36,"z":48.3},{"s":"R","d":7.5,"a":32,"z":44.8},{"s":"R","d":7.5,"a":28,"z":40.8},{"s":"R","d":7.5,"a":24,"z":36.4},{"s":"R","d":7.5,"a":20,"z":31.6},
{"s":"R","d":7,"a":100,"z":42.2},{"s":"R","d":7,"a":96,"z":45.8},{"s":"R","d":7,"a":92,"z":49.1},{"s":"R","d":7,"a":88,"z":51.8},{"s":"R","d":7,"a":84,"z":54.2},{"s":"R","d":7,"a":80,"z":56.1},{"s":"R","d":7,"a":76,"z":57.5},{"s":"R","d":7,"a":72,"z":58.5},{"s":"R","d":7,"a":68,"z":59.1},{"s":"R","d":7,"a":64,"z":59.2},{"s":"R","d":7,"a":60,"z":58.9},{"s":"R","d":7,"a":56,"z":58.2},{"s":"R","d":7,"a":52,"z":56.9},{"s":"R","d":7,"a":48,"z":55.3},{"s":"R","d":7,"a":44,"z":53.2},{"s":"R","d":7,"a":40,"z":50.6},{"s":"R","d":7,"a":36,"z":47.7},{"s":"R","d":7,"a":32,"z":44.2},{"s":"R","d":7,"a":28,"z":40.4},{"s":"R","d":7,"a":24,"z":36},{"s":"R","d":7,"a":20,"z":31.3},
{"s":"R","d":6.5,"a":100,"z":40.2},{"s":"R","d":6.5,"a":96,"z":43.9},{"s":"R","d":6.5,"a":92,"z":47.2},{"s":"R","d":6.5,"a":88,"z":50.1},{"s":"R","d":6.5,"a":84,"z":52.6},{"s":"R","d":6.5,"a":80,"z":54.5},{"s":"R","d":6.5,"a":76,"z":56.1},{"s":"R","d":6.5,"a":72,"z":57.2},{"s":"R","d":6.5,"a":68,"z":57.8},{"s":"R","d":6.5,"a":64,"z":58},{"s":"R","d":6.5,"a":60,"z":57.8},{"s":"R","d":6.5,"a":56,"z":57.1},{"s":"R","d":6.5,"a":52,"z":56},{"s":"R","d":6.5,"a":48,"z":54.4},{"s":"R","d":6.5,"a":44,"z":52.4},{"s":"R","d":6.5,"a":40,"z":50},{"s":"R","d":6.5,"a":36,"z":47.1},{"s":"R","d":6.5,"a":32,"z":43.7},{"s":"R","d":6.5,"a":28,"z":39.9},{"s":"R","d":6.5,"a":24,"z":35.7},{"s":"R","d":6.5,"a":20,"z":31},
{"s":"R","d":6,"a":100,"z":38.2},{"s":"R","d":6,"a":96,"z":42},{"s":"R","d":6,"a":92,"z":45.4},{"s":"R","d":6,"a":88,"z":48.4},{"s":"R","d":6,"a":84,"z":50.9},{"s":"R","d":6,"a":80,"z":53},{"s":"R","d":6,"a":76,"z":54.6},{"s":"R","d":6,"a":72,"z":55.8},{"s":"R","d":6,"a":68,"z":56.5},{"s":"R","d":6,"a":64,"z":56.8},{"s":"R","d":6,"a":60,"z":56.7},{"s":"R","d":6,"a":56,"z":56.1},{"s":"R","d":6,"a":52,"z":55},{"s":"R","d":6,"a":48,"z":53.6},{"s":"R","d":6,"a":44,"z":51.6},{"s":"R","d":6,"a":40,"z":49.3},{"s":"R","d":6,"a":36,"z":46.5},{"s":"R","d":6,"a":32,"z":43.2},{"s":"R","d":6,"a":28,"z":39.5},{"s":"R","d":6,"a":24,"z":35.3},{"s":"R","d":6,"a":20,"z":30.8},
{"s":"R","d":5.5,"a":100,"z":36.2},{"s":"R","d":5.5,"a":96,"z":40.1},{"s":"R","d":5.5,"a":92,"z":43.6},{"s":"R","d":5.5,"a":88,"z":46.7},{"s":"R","d":5.5,"a":84,"z":49.3},{"s":"R","d":5.5,"a":80,"z":51.4},{"s":"R","d":5.5,"a":76,"z":53.1},{"s":"R","d":5.5,"a":72,"z":54.4},{"s":"R","d":5.5,"a":68,"z":55.2},{"s":"R","d":5.5,"a":64,"z":55.6},{"s":"R","d":5.5,"a":60,"z":55.6},{"s":"R","d":5.5,"a":56,"z":55},{"s":"R","d":5.5,"a":52,"z":54.1},{"s":"R","d":5.5,"a":48,"z":52.7},{"s":"R","d":5.5,"a":44,"z":50.9},{"s":"R","d":5.5,"a":40,"z":48.6},{"s":"R","d":5.5,"a":36,"z":45.8},{"s":"R","d":5.5,"a":32,"z":42.7},{"s":"R","d":5.5,"a":28,"z":39.1},{"s":"R","d":5.5,"a":24,"z":35},{"s":"R","d":5.5,"a":20,"z":30.5},
{"s":"R","d":5,"a":100,"z":34.3},{"s":"R","d":5,"a":96,"z":38.3},{"s":"R","d":5,"a":92,"z":41.8},{"s":"R","d":5,"a":88,"z":45},{"s":"R","d":5,"a":84,"z":47.7},{"s":"R","d":5,"a":80,"z":49.9},{"s":"R","d":5,"a":76,"z":51.7},{"s":"R","d":5,"a":72,"z":53.1},{"s":"R","d":5,"a":68,"z":54},{"s":"R","d":5,"a":64,"z":54.4},{"s":"R","d":5,"a":60,"z":54.5},{"s":"R","d":5,"a":56,"z":54},{"s":"R","d":5,"a":52,"z":53.2},{"s":"R","d":5,"a":48,"z":51.9},{"s":"R","d":5,"a":44,"z":50.1},{"s":"R","d":5,"a":40,"z":47.9},{"s":"R","d":5,"a":36,"z":45.3},{"s":"R","d":5,"a":32,"z":42.2},{"s":"R","d":5,"a":28,"z":38.6},{"s":"R","d":5,"a":24,"z":34.7},{"s":"R","d":5,"a":20,"z":30.3},
{"s":"L","k":"floor","o":0,"d":5,"a":20},{"s":"L","k":"floor","o":1,"d":15,"a":20},{"s":"L","k":"floor","o":2,"d":15,"a":100},{"s":"L","k":"floor","o":3,"d":5,"a":100},{"s":"L","k":"floor","o":4,"d":5,"a":20},
{"s":"R","k":"floor","o":0,"d":5,"a":20},{"s":"R","k":"floor","o":1,"d":15,"a":20},{"s":"R","k":"floor","o":2,"d":15,"a":100},{"s":"R","k":"floor","o":3,"d":5,"a":100},{"s":"R","k":"floor","o":4,"d":5,"a":20},
{"s":"L","k":"w","g":"z40","o":0,"d":5,"a":100,"z":40},{"s":"L","k":"w","g":"z40","o":1,"d":15,"a":100,"z":40},{"s":"L","k":"w","g":"z40","o":2,"d":15,"a":20,"z":40},
{"s":"L","k":"w","g":"z56","o":0,"d":5,"a":100,"z":56},{"s":"L","k":"w","g":"z56","o":1,"d":15,"a":100,"z":56},{"s":"L","k":"w","g":"z56","o":2,"d":15,"a":20,"z":56},
{"s":"L","k":"w","g":"z72","o":0,"d":5,"a":100,"z":72},{"s":"L","k":"w","g":"z72","o":1,"d":15,"a":100,"z":72},{"s":"L","k":"w","g":"z72","o":2,"d":15,"a":20,"z":72},
{"s":"L","k":"w","g":"z88","o":0,"d":5,"a":100,"z":88},{"s":"L","k":"w","g":"z88","o":1,"d":15,"a":100,"z":88},{"s":"L","k":"w","g":"z88","o":2,"d":15,"a":20,"z":88},
{"s":"L","k":"w","g":"z104","o":0,"d":5,"a":100,"z":104},{"s":"L","k":"w","g":"z104","o":1,"d":15,"a":100,"z":104},{"s":"L","k":"w","g":"z104","o":2,"d":15,"a":20,"z":104},
{"s":"L","k":"w","g":"z120","o":0,"d":5,"a":100,"z":120},{"s":"L","k":"w","g":"z120","o":1,"d":15,"a":100,"z":120},{"s":"L","k":"w","g":"z120","o":2,"d":15,"a":20,"z":120},
{"s":"L","k":"w","g":"d5","o":0,"d":5,"a":100},{"s":"L","k":"w","g":"d5","o":1,"d":5,"a":100,"z":120},{"s":"L","k":"w","g":"d7","o":0,"d":7,"a":100},{"s":"L","k":"w","g":"d7","o":1,"d":7,"a":100,"z":120},{"s":"L","k":"w","g":"d9","o":0,"d":9,"a":100},{"s":"L","k":"w","g":"d9","o":1,"d":9,"a":100,"z":120},{"s":"L","k":"w","g":"d11","o":0,"d":11,"a":100},{"s":"L","k":"w","g":"d11","o":1,"d":11,"a":100,"z":120},{"s":"L","k":"w","g":"d13","o":0,"d":13,"a":100},{"s":"L","k":"w","g":"d13","o":1,"d":13,"a":100,"z":120},{"s":"L","k":"w","g":"d15","o":0,"d":15,"a":100},{"s":"L","k":"w","g":"d15","o":1,"d":15,"a":100,"z":120},
{"s":"L","k":"w","g":"a80","o":0,"d":15,"a":80},{"s":"L","k":"w","g":"a80","o":1,"d":15,"a":80,"z":120},{"s":"L","k":"w","g":"a60","o":0,"d":15,"a":60},{"s":"L","k":"w","g":"a60","o":1,"d":15,"a":60,"z":120},{"s":"L","k":"w","g":"a40","o":0,"d":15,"a":40},{"s":"L","k":"w","g":"a40","o":1,"d":15,"a":40,"z":120},{"s":"L","k":"w","g":"a20","o":0,"d":15,"a":20},{"s":"L","k":"w","g":"a20","o":1,"d":15,"a":20,"z":120},
{"s":"R","k":"w","g":"z20","o":0,"d":5,"a":100,"z":20},{"s":"R","k":"w","g":"z20","o":1,"d":15,"a":100,"z":20},{"s":"R","k":"w","g":"z20","o":2,"d":15,"a":20,"z":20},
{"s":"R","k":"w","g":"z34","o":0,"d":5,"a":100,"z":34},{"s":"R","k":"w","g":"z34","o":1,"d":15,"a":100,"z":34},{"s":"R","k":"w","g":"z34","o":2,"d":15,"a":20,"z":34},
{"s":"R","k":"w","g":"z48","o":0,"d":5,"a":100,"z":48},{"s":"R","k":"w","g":"z48","o":1,"d":15,"a":100,"z":48},{"s":"R","k":"w","g":"z48","o":2,"d":15,"a":20,"z":48},
{"s":"R","k":"w","g":"z62","o":0,"d":5,"a":100,"z":62},{"s":"R","k":"w","g":"z62","o":1,"d":15,"a":100,"z":62},{"s":"R","k":"w","g":"z62","o":2,"d":15,"a":20,"z":62},
{"s":"R","k":"w","g":"z76","o":0,"d":5,"a":100,"z":76},{"s":"R","k":"w","g":"z76","o":1,"d":15,"a":100,"z":76},{"s":"R","k":"w","g":"z76","o":2,"d":15,"a":20,"z":76},
{"s":"R","k":"w","g":"z90","o":0,"d":5,"a":100,"z":90},{"s":"R","k":"w","g":"z90","o":1,"d":15,"a":100,"z":90},{"s":"R","k":"w","g":"z90","o":2,"d":15,"a":20,"z":90},
{"s":"R","k":"w","g":"d5","o":0,"d":5,"a":100},{"s":"R","k":"w","g":"d5","o":1,"d":5,"a":100,"z":90},{"s":"R","k":"w","g":"d7","o":0,"d":7,"a":100},{"s":"R","k":"w","g":"d7","o":1,"d":7,"a":100,"z":90},{"s":"R","k":"w","g":"d9","o":0,"d":9,"a":100},{"s":"R","k":"w","g":"d9","o":1,"d":9,"a":100,"z":90},{"s":"R","k":"w","g":"d11","o":0,"d":11,"a":100},{"s":"R","k":"w","g":"d11","o":1,"d":11,"a":100,"z":90},{"s":"R","k":"w","g":"d13","o":0,"d":13,"a":100},{"s":"R","k":"w","g":"d13","o":1,"d":13,"a":100,"z":90},{"s":"R","k":"w","g":"d15","o":0,"d":15,"a":100},{"s":"R","k":"w","g":"d15","o":1,"d":15,"a":100,"z":90},
{"s":"R","k":"w","g":"a80","o":0,"d":15,"a":80},{"s":"R","k":"w","g":"a80","o":1,"d":15,"a":80,"z":90},{"s":"R","k":"w","g":"a60","o":0,"d":15,"a":60},{"s":"R","k":"w","g":"a60","o":1,"d":15,"a":60,"z":90},{"s":"R","k":"w","g":"a40","o":0,"d":15,"a":40},{"s":"R","k":"w","g":"a40","o":1,"d":15,"a":40,"z":90},{"s":"R","k":"w","g":"a20","o":0,"d":15,"a":20},{"s":"R","k":"w","g":"a20","o":1,"d":15,"a":20,"z":90},
{"s":"L","k":"c","g":"L62","o":0,"d":6.92,"a":20},{"s":"L","k":"c","g":"L62","o":1,"d":7.13,"a":22.5},{"s":"L","k":"c","g":"L62","o":2,"d":7.32,"a":25},{"s":"L","k":"c","g":"L62","o":3,"d":7.61,"a":30},{"s":"L","k":"c","g":"L62","o":4,"d":8.02,"a":40},{"s":"L","k":"c","g":"L62","o":5,"d":8.29,"a":50},{"s":"L","k":"c","g":"L62","o":6,"d":8.47,"a":60},{"s":"L","k":"c","g":"L62","o":7,"d":8.58,"a":70},{"s":"L","k":"c","g":"L62","o":8,"d":8.63,"a":80},{"s":"L","k":"c","g":"L62","o":9,"d":8.63,"a":90},{"s":"L","k":"c","g":"L62","o":10,"d":8.58,"a":100},
{"s":"L","k":"c","g":"L74","o":0,"d":10.08,"a":20},{"s":"L","k":"c","g":"L74","o":1,"d":10.28,"a":30},{"s":"L","k":"c","g":"L74","o":2,"d":10.43,"a":40},{"s":"L","k":"c","g":"L74","o":3,"d":10.53,"a":50},{"s":"L","k":"c","g":"L74","o":4,"d":10.59,"a":60},{"s":"L","k":"c","g":"L74","o":5,"d":10.61,"a":70},{"s":"L","k":"c","g":"L74","o":6,"d":10.6,"a":80},{"s":"L","k":"c","g":"L74","o":7,"d":10.56,"a":90},{"s":"L","k":"c","g":"L74","o":8,"d":10.48,"a":100},
{"s":"L","k":"c","g":"L84","o":0,"d":11.6,"a":20},{"s":"L","k":"c","g":"L84","o":1,"d":11.73,"a":30},{"s":"L","k":"c","g":"L84","o":2,"d":11.81,"a":40},{"s":"L","k":"c","g":"L84","o":3,"d":11.87,"a":50},{"s":"L","k":"c","g":"L84","o":4,"d":11.89,"a":60},{"s":"L","k":"c","g":"L84","o":5,"d":11.88,"a":70},{"s":"L","k":"c","g":"L84","o":6,"d":11.85,"a":80},{"s":"L","k":"c","g":"L84","o":7,"d":11.79,"a":90},{"s":"L","k":"c","g":"L84","o":8,"d":11.71,"a":100},
{"s":"L","k":"c","g":"L97","o":0,"d":13.12,"a":20},{"s":"L","k":"c","g":"L97","o":1,"d":13.2,"a":30},{"s":"L","k":"c","g":"L97","o":2,"d":13.24,"a":40},{"s":"L","k":"c","g":"L97","o":3,"d":13.26,"a":50},{"s":"L","k":"c","g":"L97","o":4,"d":13.26,"a":60},{"s":"L","k":"c","g":"L97","o":5,"d":13.23,"a":70},{"s":"L","k":"c","g":"L97","o":6,"d":13.18,"a":80},{"s":"L","k":"c","g":"L97","o":7,"d":13.11,"a":90},{"s":"L","k":"c","g":"L97","o":8,"d":13.02,"a":100},
{"s":"L","k":"c","g":"L108","o":0,"d":14.23,"a":20},{"s":"L","k":"c","g":"L108","o":1,"d":14.28,"a":30},{"s":"L","k":"c","g":"L108","o":2,"d":14.31,"a":40},{"s":"L","k":"c","g":"L108","o":3,"d":14.31,"a":50},{"s":"L","k":"c","g":"L108","o":4,"d":14.29,"a":60},{"s":"L","k":"c","g":"L108","o":5,"d":14.26,"a":70},{"s":"L","k":"c","g":"L108","o":6,"d":14.19,"a":80},{"s":"L","k":"c","g":"L108","o":7,"d":14.12,"a":90},{"s":"L","k":"c","g":"L108","o":8,"d":14.02,"a":100},
{"s":"R","k":"c","g":"R39a","o":0,"d":5,"a":28.4},{"s":"R","k":"c","g":"R39a","o":1,"d":6.4,"a":27.2},{"s":"R","k":"c","g":"R39a","o":2,"d":7.95,"a":26},{"s":"R","k":"c","g":"R39a","o":3,"d":9.35,"a":25},{"s":"R","k":"c","g":"R39a","o":4,"d":10.8,"a":24},{"s":"R","k":"c","g":"R39a","o":5,"d":12.45,"a":23},{"s":"R","k":"c","g":"R39a","o":6,"d":14.05,"a":22},{"s":"R","k":"c","g":"R39a","o":7,"d":15,"a":21.4},
{"s":"R","k":"c","g":"R39b","o":0,"d":5,"a":95},{"s":"R","k":"c","g":"R39b","o":1,"d":5.2,"a":96},{"s":"R","k":"c","g":"R39b","o":2,"d":6.2,"a":100},
{"s":"R","k":"c","g":"R47a","o":0,"d":5,"a":39.4},{"s":"R","k":"c","g":"R47a","o":1,"d":5.7,"a":38},{"s":"R","k":"c","g":"R47a","o":2,"d":6.9,"a":36},{"s":"R","k":"c","g":"R47a","o":3,"d":8.3,"a":34},{"s":"R","k":"c","g":"R47a","o":4,"d":9.95,"a":32},{"s":"R","k":"c","g":"R47a","o":5,"d":11.9,"a":30},{"s":"R","k":"c","g":"R47a","o":6,"d":14.2,"a":28},{"s":"R","k":"c","g":"R47a","o":7,"d":15,"a":27.3},
{"s":"R","k":"c","g":"R47b","o":0,"d":5,"a":84.2},{"s":"R","k":"c","g":"R47b","o":1,"d":5.74,"a":88},{"s":"R","k":"c","g":"R47b","o":2,"d":6.55,"a":92},{"s":"R","k":"c","g":"R47b","o":3,"d":7.44,"a":96},{"s":"R","k":"c","g":"R47b","o":4,"d":8.35,"a":100},
{"s":"R","k":"c","g":"R56","o":0,"d":10.43,"a":100},{"s":"R","k":"c","g":"R56","o":1,"d":9.64,"a":96},{"s":"R","k":"c","g":"R56","o":2,"d":8.9,"a":92},{"s":"R","k":"c","g":"R56","o":3,"d":8.2,"a":88},{"s":"R","k":"c","g":"R56","o":4,"d":7.55,"a":84},{"s":"R","k":"c","g":"R56","o":5,"d":6.98,"a":80},{"s":"R","k":"c","g":"R56","o":6,"d":6.47,"a":76},{"s":"R","k":"c","g":"R56","o":7,"d":6.1,"a":72},{"s":"R","k":"c","g":"R56","o":8,"d":5.8,"a":68},{"s":"R","k":"c","g":"R56","o":9,"d":5.67,"a":64},{"s":"R","k":"c","g":"R56","o":10,"d":5.7,"a":60},{"s":"R","k":"c","g":"R56","o":11,"d":5.95,"a":56},{"s":"R","k":"c","g":"R56","o":12,"d":6.5,"a":52},{"s":"R","k":"c","g":"R56","o":13,"d":7.4,"a":48},{"s":"R","k":"c","g":"R56","o":14,"d":8.75,"a":44},{"s":"R","k":"c","g":"R56","o":15,"d":10.65,"a":40},{"s":"R","k":"c","g":"R56","o":16,"d":11.85,"a":38},{"s":"R","k":"c","g":"R56","o":17,"d":13.3,"a":36},{"s":"R","k":"c","g":"R56","o":18,"d":15,"a":34},
{"s":"R","k":"c","g":"R65","o":0,"d":12.6,"a":100},{"s":"R","k":"c","g":"R65","o":1,"d":11.87,"a":96},{"s":"R","k":"c","g":"R65","o":2,"d":11.25,"a":92},{"s":"R","k":"c","g":"R65","o":3,"d":10.68,"a":88},{"s":"R","k":"c","g":"R65","o":4,"d":10.17,"a":84},{"s":"R","k":"c","g":"R65","o":5,"d":9.75,"a":80},{"s":"R","k":"c","g":"R65","o":6,"d":9.42,"a":76},{"s":"R","k":"c","g":"R65","o":7,"d":9.22,"a":72},{"s":"R","k":"c","g":"R65","o":8,"d":9.15,"a":68},{"s":"R","k":"c","g":"R65","o":9,"d":9.25,"a":64},{"s":"R","k":"c","g":"R65","o":10,"d":9.55,"a":60},{"s":"R","k":"c","g":"R65","o":11,"d":10.1,"a":56},{"s":"R","k":"c","g":"R65","o":12,"d":10.95,"a":52},{"s":"R","k":"c","g":"R65","o":13,"d":12.2,"a":48},{"s":"R","k":"c","g":"R65","o":14,"d":13.95,"a":44},{"s":"R","k":"c","g":"R65","o":15,"d":15,"a":42},
{"s":"R","k":"c","g":"R73","o":0,"d":14.6,"a":100},{"s":"R","k":"c","g":"R73","o":1,"d":14,"a":96},{"s":"R","k":"c","g":"R73","o":2,"d":13.5,"a":92},{"s":"R","k":"c","g":"R73","o":3,"d":13.05,"a":88},{"s":"R","k":"c","g":"R73","o":4,"d":12.68,"a":84},{"s":"R","k":"c","g":"R73","o":5,"d":12.4,"a":80},{"s":"R","k":"c","g":"R73","o":6,"d":12.2,"a":76},{"s":"R","k":"c","g":"R73","o":7,"d":12.15,"a":72},{"s":"R","k":"c","g":"R73","o":8,"d":12.25,"a":68},{"s":"R","k":"c","g":"R73","o":9,"d":12.57,"a":64},{"s":"R","k":"c","g":"R73","o":10,"d":13.07,"a":60},{"s":"R","k":"c","g":"R73","o":11,"d":13.9,"a":56},{"s":"R","k":"c","g":"R73","o":12,"d":15,"a":52},
{"s":"L","k":"t","axis":"d","t":"5","d":5,"a":20},{"s":"L","k":"t","axis":"d","t":"7","d":7,"a":20},{"s":"L","k":"t","axis":"d","t":"9","d":9,"a":20},{"s":"L","k":"t","axis":"d","t":"11","d":11,"a":20},{"s":"L","k":"t","axis":"d","t":"13","d":13,"a":20},{"s":"L","k":"t","axis":"d","t":"15","d":15,"a":20},
{"s":"L","k":"t","axis":"a","t":"20","d":5,"a":20},{"s":"L","k":"t","axis":"a","t":"40","d":5,"a":40},{"s":"L","k":"t","axis":"a","t":"60","d":5,"a":60},{"s":"L","k":"t","axis":"a","t":"80","d":5,"a":80},{"s":"L","k":"t","axis":"a","t":"100","d":5,"a":100},
{"s":"L","k":"t","axis":"z","t":"40","d":5,"a":100,"z":40},{"s":"L","k":"t","axis":"z","t":"56","d":5,"a":100,"z":56},{"s":"L","k":"t","axis":"z","t":"72","d":5,"a":100,"z":72},{"s":"L","k":"t","axis":"z","t":"88","d":5,"a":100,"z":88},{"s":"L","k":"t","axis":"z","t":"104","d":5,"a":100,"z":104},{"s":"L","k":"t","axis":"z","t":"120","d":5,"a":100,"z":120},
{"s":"R","k":"t","axis":"d","t":"5","d":5,"a":20},{"s":"R","k":"t","axis":"d","t":"7","d":7,"a":20},{"s":"R","k":"t","axis":"d","t":"9","d":9,"a":20},{"s":"R","k":"t","axis":"d","t":"11","d":11,"a":20},{"s":"R","k":"t","axis":"d","t":"13","d":13,"a":20},{"s":"R","k":"t","axis":"d","t":"15","d":15,"a":20},
{"s":"R","k":"t","axis":"a","t":"20","d":5,"a":20},{"s":"R","k":"t","axis":"a","t":"40","d":5,"a":40},{"s":"R","k":"t","axis":"a","t":"60","d":5,"a":60},{"s":"R","k":"t","axis":"a","t":"80","d":5,"a":80},{"s":"R","k":"t","axis":"a","t":"100","d":5,"a":100},
{"s":"R","k":"t","axis":"z","t":"20","d":5,"a":100,"z":20},{"s":"R","k":"t","axis":"z","t":"34","d":5,"a":100,"z":34},{"s":"R","k":"t","axis":"z","t":"48","d":5,"a":100,"z":48},{"s":"R","k":"t","axis":"z","t":"62","d":5,"a":100,"z":62},{"s":"R","k":"t","axis":"z","t":"76","d":5,"a":100,"z":76},{"s":"R","k":"t","axis":"z","t":"90","d":5,"a":100,"z":90},
{"s":"L","k":"title","axis":"a","t":"Electrode open angle (degree)","d":5,"a":60},{"s":"R","k":"title","axis":"a","t":"Electrode open angle (degree)","d":5,"a":60},
{"s":"L","k":"title","axis":"d","t":"Discharge distance (mm)","d":11,"a":20},{"s":"R","k":"title","axis":"d","t":"Discharge distance (mm)","d":11,"a":20},
{"s":"L","k":"title","axis":"z","t":"Plasma length (mm)","d":5,"a":100,"z":72},{"s":"R","k":"title","axis":"z","t":"Plasma width W1 (mm)","d":5,"a":100,"z":48}
]},
"transform":[
{"calculate":"(datum.d-5)/10","as":"u"},
{"calculate":"(datum.a-20)/80","as":"v"},
{"calculate":"!isValid(datum.z)?0:(datum.s=='L'?(datum.z-13.31)/107.18:(datum.z+3.34)/93.72)","as":"w"},
{"calculate":"!isValid(datum.z)?0:(datum.s=='L'?(datum.z-15)/105:(datum.z+1.9)/91.9)","as":"wl"},
{"calculate":"1+0.14371*datum.u+0.14371*datum.v-0.0719*datum.w","as":"den"},
{"calculate":"datum.k=='w'||datum.k=='t'||datum.k=='title'","as":"gl"},
{"calculate":"(datum.gl?(708+447*datum.u-447*datum.v)*(1-datum.wl)+(708+476*datum.u-477*datum.v)*datum.wl:(613*datum.u-409.49*datum.v-50.9*datum.w+708)/datum.den)+(datum.s=='R'?1425.3:0)","as":"px"},
{"calculate":"(datum.gl?(978-215*datum.u-215*datum.v+48*datum.u*datum.v)*(1-datum.wl)+(149*datum.u+150*datum.v-258.4*datum.u*datum.v)*datum.wl:(-105.35*datum.u-105.35*datum.v-716*datum.w+978)/datum.den)-(datum.s=='R'?1.5:0)","as":"py"}
],
"encoding":{
"x":{"field":"px","type":"quantitative","scale":{"domain":[0,2744],"range":[0,2744],"nice":false,"zero":false},"axis":null},
"y":{"field":"py","type":"quantitative","scale":{"domain":[0,1052],"range":[0,1052],"nice":false,"zero":false},"axis":null}
},
"layer":[
{"transform":[{"filter":"datum.k=='w'"}],"mark":{"type":"line","stroke":"#222222","strokeWidth":1.4,"clip":false},"encoding":{"detail":[{"field":"s"},{"field":"g"}],"order":{"field":"o","type":"quantitative"}}},
{"transform":[{"filter":"datum.k=='floor'"}],"mark":{"type":"line","fill":"#646464","stroke":"#000000","strokeWidth":1.6},"encoding":{"detail":{"field":"s"},"order":{"field":"o","type":"quantitative"}}},
{"transform":[{"filter":"datum.k=='c'"}],"mark":{"type":"line","strokeWidth":3.2,"interpolate":"catmull-rom"},"encoding":{"detail":{"field":"g"},"order":{"field":"o","type":"quantitative"},"stroke":{"field":"g","type":"nominal","legend":null,"scale":{"domain":["L62","L74","L84","L97","L108","R39a","R39b","R47a","R47b","R56","R65","R73"],"range":["#12c4ee","#08e0a0","#28f000","#d8ee10","#ff8c10","#18c8f0","#18c8f0","#10e080","#10e080","#44e000","#f0e000","#ff5a00"]}}}},
{"transform":[{"filter":"!isValid(datum.k)"},
{"calculate":"round((datum.d-5)*2)","as":"i"},{"calculate":"round((datum.a-20)/4)","as":"j"},
{"calculate":"[{ci:datum.i,cj:datum.j,ord:0},{ci:datum.i,cj:datum.j,ord:4},{ci:datum.i-1,cj:datum.j,ord:1},{ci:datum.i-1,cj:datum.j-1,ord:2},{ci:datum.i,cj:datum.j-1,ord:3}]","as":"vx"},
{"flatten":["vx"]},
{"calculate":"datum.vx.ci","as":"ci"},{"calculate":"datum.vx.cj","as":"cj"},{"calculate":"datum.vx.ord","as":"ord"},
{"filter":"datum.ci>=0&&datum.cj>=0&&datum.ci<20&&datum.cj<20"},
{"calculate":"datum.s+'_'+datum.ci+'_'+datum.cj","as":"cell"},
{"joinaggregate":[{"op":"mean","field":"z","as":"zm"}],"groupby":["cell"]},
{"calculate":"datum.s=='L'?datum.zm:datum.zm+1000","as":"tv"}],
"mark":{"type":"line","stroke":"#1a1a1a","strokeWidth":1,"strokeOpacity":0.85},
"encoding":{"detail":{"field":"cell"},"order":{"field":"ord","type":"quantitative"},"fill":{"field":"tv","type":"quantitative","legend":null,"scale":{"domain":[52,66,82,98,116,1031,1041,1054,1067,1080],"range":["#3f68ff","#5ffcff","#7cff7c","#ffff7c","#ff8080","#0040ff","#00ffff","#18ff30","#ffff28","#ff4c50"],"zero":false,"nice":false,"clamp":true}}}},
{"transform":[{"filter":"datum.k=='t'"}],"mark":{"type":"circle","size":58,"color":"#000000","opacity":1}},
{"transform":[{"filter":"datum.k=='t'&&datum.axis=='d'"}],"mark":{"type":"text","align":"left","baseline":"middle","dx":21,"dy":25,"fontSize":32,"font":"Open Sans","color":"#1a1a1a"},"encoding":{"text":{"field":"t"}}},
{"transform":[{"filter":"datum.k=='t'&&datum.axis=='a'"}],"mark":{"type":"text","align":"right","baseline":"middle","dx":-22,"dy":25,"fontSize":32,"font":"Open Sans","color":"#1a1a1a"},"encoding":{"text":{"field":"t"}}},
{"transform":[{"filter":"datum.k=='t'&&datum.axis=='z'"}],"mark":{"type":"text","align":"right","baseline":"middle","dx":-22,"dy":-24,"fontSize":32,"font":"Open Sans","color":"#1a1a1a"},"encoding":{"text":{"field":"t"}}},
{"transform":[{"filter":"datum.k=='title'&&datum.axis=='a'"}],"mark":{"type":"text","align":"center","baseline":"middle","dx":-218,"dy":85,"fontSize":34,"font":"Open Sans","color":"#1a1a1a"},"encoding":{"text":{"field":"t"}}},
{"transform":[{"filter":"datum.k=='title'&&datum.axis=='d'"}],"mark":{"type":"text","align":"center","baseline":"middle","dx":128,"dy":109,"fontSize":34,"font":"Open Sans","color":"#1a1a1a"},"encoding":{"text":{"field":"t"}}},
{"transform":[{"filter":"datum.k=='title'&&datum.axis=='z'"}],"mark":{"type":"text","align":"center","baseline":"middle","angle":270,"dx":-35,"dy":-155,"fontSize":34,"font":"Open Sans","color":"#1a1a1a"},"encoding":{"text":{"field":"t"}}}
]}
